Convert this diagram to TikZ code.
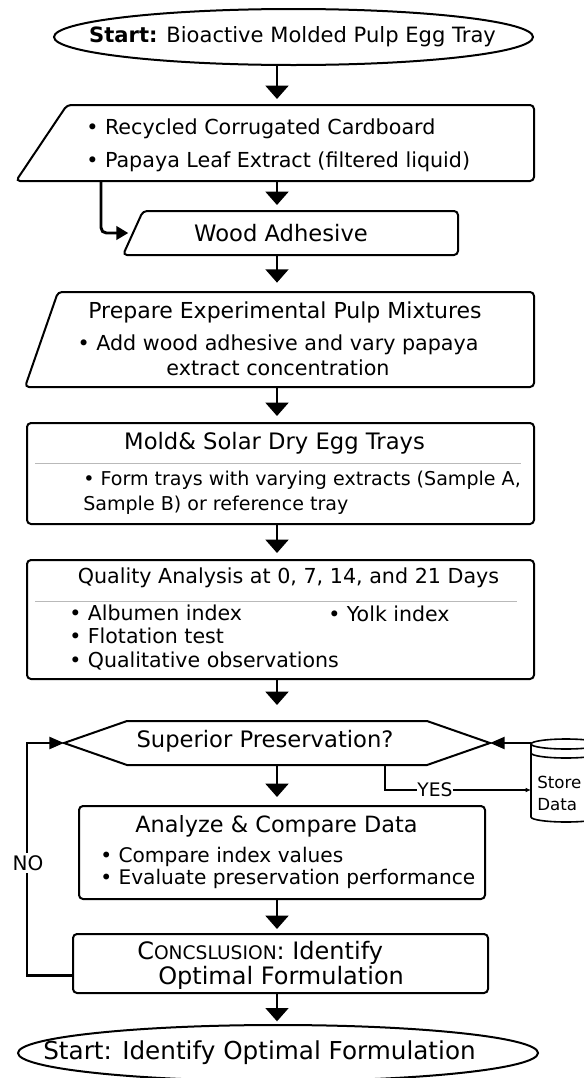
\documentclass[tikz,border=0pt]{standalone}
\usepackage{fontspec}
\setmainfont{DejaVu Sans}
\usetikzlibrary{arrows.meta,shapes.geometric,positioning}

\tikzset{
  frame/.style={inner sep=0pt, outer sep=0pt},
  box/.style={draw, line width=1.5pt, rounded corners=3pt, inner sep=0pt},
  shapeline/.style={line width=1.5pt, rounded corners=3pt},
  txt/.style={inner sep=0pt, align=center, font=\fontsize{15}{18}\selectfont},
  arr/.style={line width=2.2pt, -{Triangle[width=17pt,length=10pt]}, shorten >=4.5pt},
  loopline/.style={line width=1.8pt},
  sepline/.style={draw=gray!55, line width=0.6pt},
}

\begin{document}
\begin{tikzpicture}[x=0.75pt, y=-0.75pt]
  \def\px{0.75pt}
  \useasboundingbox (0,0) rectangle (584,1078);
  \coordinate (col) at (277,0);
  %
  \node[ellipse, draw, line width=1.5pt, minimum width=479*\px, minimum height=56*\px,
        inner sep=0pt] (start) at (293.5,37) {};
  \node[txt, font=\fontsize{15.8}{18}\selectfont] (startT) at (292.5,37)
        {\textbf{Start:} Bioactive Molded Pulp Egg Tray};
  %
  \node[frame, minimum width=518*\px, minimum height=76*\px] (src) at (275,143) {};
  \draw[shapeline] (src.south west) -- ([xshift=51*\px]src.north west)
        -- (src.north east) -- (src.south east) -- cycle;
  \node[txt, anchor=west, align=left, font=\fontsize{15.5}{24.5}\selectfont] (srcT) at (86,145.5)
        {• Recycled Corrugated Cardboard\\• Papaya Leaf Extract (filtered liquid)};
  %
  \node[frame, minimum width=335*\px, minimum height=44*\px] (wood) at (290.5,233) {};
  \draw[shapeline] (wood.south west) -- ([xshift=20*\px]wood.north west)
        -- (wood.north east) -- (wood.south east) -- cycle;
  \node[txt, font=\fontsize{17}{18}\selectfont] (woodT) at (281,233) {Wood Adhesive};
  %
  \node[frame, minimum width=509*\px, minimum height=95*\px] (prep) at (279.5,339.5) {};
  \draw[shapeline] (prep.south west) -- ([xshift=33*\px]prep.north west)
        -- (prep.north east) -- (prep.south east) -- cycle;
  \node[txt, font=\fontsize{16.5}{18}\selectfont] (prepT) at (285,312) {Prepare Experimental Pulp Mixtures};
  \node[txt, font=\fontsize{15.5}{18.75}\selectfont] (prepB) at (278,355.5)
        {• Add wood adhesive and vary papaya\\extract concentration};
  %
  \node[box, minimum width=507*\px, minimum height=101*\px] (mold) at (280.5,473.5) {};
  \node[txt, font=\fontsize{17}{18}\selectfont] (moldT) at (274.5,443) {Mold\& Solar Dry Egg Trays};
  \draw[sepline] (35,463) -- (521,463);
  \node[txt, anchor=west, align=left, font=\fontsize{14.3}{18.75}\selectfont] (moldB) at (83,492.5)
        {• Form trays with varying extracts (Sample A,\\Sample B) or reference tray};
  %
  \node[box, minimum width=507*\px, minimum height=119*\px] (qual) at (280.5,619.5) {};
  \node[txt, font=\fontsize{15.5}{18}\selectfont] (qualT) at (288.5,578) {Quality Analysis at 0, 7, 14, and 21 Days};
  \draw[sepline] (35,601) -- (517,601);
  \node[txt, anchor=west, align=left, font=\fontsize{15.4}{17.6}\selectfont] (qualB) at (69,637.5)
        {• Albumen index\\• Flotation test\\• Qualitative observations};
  \node[txt, anchor=west, font=\fontsize{15.4}{17.6}\selectfont] (qualY) at (328,614) {• Yolk index};
  %
  \node[frame, minimum width=426*\px, minimum height=44*\px] (dec) at (277,743) {};
  \draw[line width=1.5pt] (dec.west) -- ([xshift=63*\px]dec.north west)
        -- ([xshift=-63*\px]dec.north east) -- (dec.east)
        -- ([xshift=-63*\px]dec.south east) -- ([xshift=63*\px]dec.south west) -- cycle;
  \node[txt, font=\fontsize{17}{18}\selectfont] (decT) at (265,741) {Superior Preservation?};
  %
  \node[frame, minimum width=70*\px, minimum height=84*\px] (store) at (566,780) {};
  \draw[line width=1.2pt] (531,744) -- (531,817) arc[start angle=180, end angle=0, x radius=35, y radius=5] -- (601,744);
  \draw[line width=1.2pt] (566,744) ellipse[x radius=35, y radius=5];
  \draw[line width=1.2pt] (531,753) arc[start angle=180, end angle=0, x radius=35, y radius=5];
  \node[txt, anchor=west, align=left, font=\fontsize{12.5}{17}\selectfont] (storeT) at (537,793.5) {Store\\Data};
  %
  \node[box, minimum width=406*\px, minimum height=93*\px] (ana) at (282,852.5) {};
  \node[txt, font=\fontsize{16.8}{18}\selectfont] (anaT) at (276.5,826) {Analyze \& Compare Data};
  \node[txt, anchor=west, align=left, font=\fontsize{15.1}{16.5}\selectfont] (anaB) at (100,868)
        {• Compare index values\\• Evaluate preservation performance};
  %
  \node[box, minimum width=415*\px, minimum height=59*\px] (concl) at (280.5,963.5) {};
  \node[txt, anchor=west, align=left, font=\fontsize{18}{17.25}\selectfont] (conclT) at (137,965.5)
        {{\fontsize{18}{17}\selectfont C}{\fontsize{14}{17}\selectfont ONCSLUSION}: Identify\\\hspace*{15.75pt}Optimal Formulation};
  %
  \node[ellipse, draw, line width=1.5pt, minimum width=520*\px, minimum height=56*\px,
        inner sep=0pt] (finish) at (278,1053) {};
  \node[txt, font=\fontsize{18.5}{20}\selectfont] (finishT) at (259.5,1053) {Start: Identify Optimal Formulation};
  %
  \draw[arr] (start.south -| col) -- (src.north -| col);
  \draw[arr] (src.south -| col) -- (wood.north -| col);
  \draw[arr, shorten >=7pt] (wood.south -| col) -- (prep.north -| col);
  \draw[arr] (prep.south -| col) -- (mold.north -| col);
  \draw[arr] (mold.south -| col) -- (qual.north -| col);
  \draw[arr, shorten >=12pt] (qual.south -| col) -- (dec.north -| col);
  \draw[arr, shorten >=6pt] (dec.south -| col) -- (ana.north -| col);
  \draw[arr, shorten >=3pt] (ana.south -| col) -- (concl.north -| col);
  \draw[arr, shorten >=2pt] (concl.south -| col) -- (finish.north -| col);
  %
  \coordinate (srcx) at (101,0);
  \draw[line width=2.2pt, rounded corners=4pt, -{Triangle[width=10pt,length=9pt]}]
        (src.south -| srcx) |- ([xshift=4pt]wood.west);
  %
  \coordinate (yesx) at (385,0);
  \node[txt, font=\fontsize{14}{15}\selectfont] (yes) at (435,790) {YES};
  \draw[loopline] (dec.south -| yesx) |- (yes.west);
  \draw[line width=0.8pt, -{Latex[length=4pt,width=3.5pt]}] (yes.east) -- (store.west |- yes);
  \draw[loopline, -{Triangle[width=9pt,length=11pt]}] (store.west |- dec) -- (dec.east);
  %
  \coordinate (nox) at (27,0);
  \draw[loopline, -{Triangle[width=9pt,length=11pt]}] ([yshift=-9pt]concl.west) -| (nox |- dec) -- (dec.west);
  \node[txt, fill=white, inner sep=2pt, font=\fontsize{15}{15}\selectfont] (no) at (28,863) {NO};
\end{tikzpicture}
\end{document}
